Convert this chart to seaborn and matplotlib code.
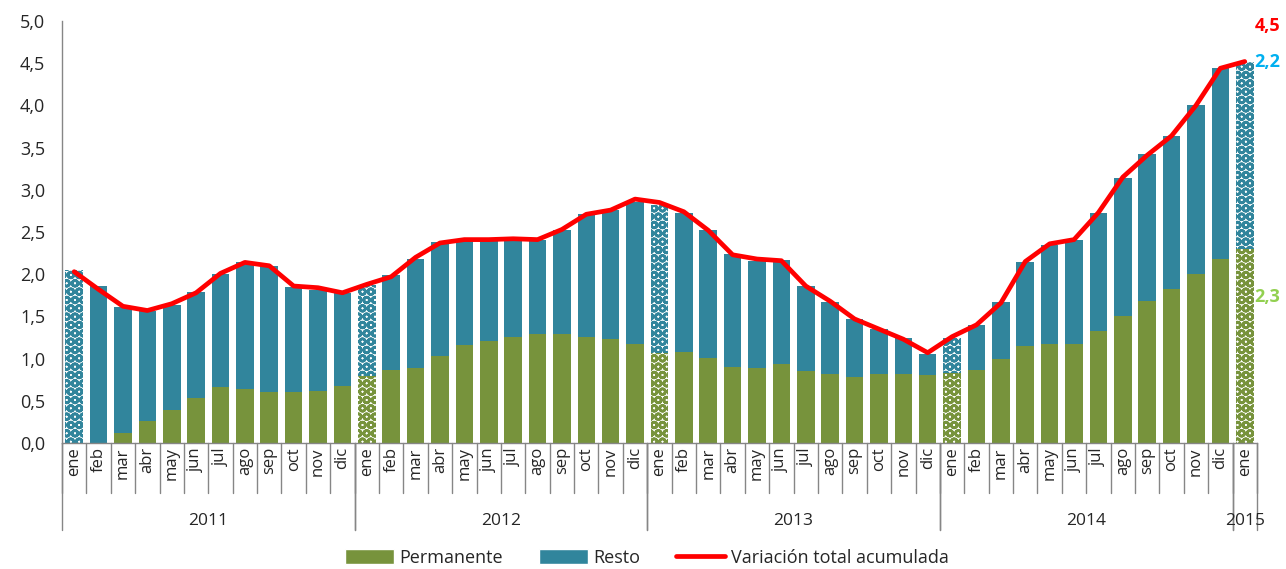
import numpy as np
import pandas as pd
import matplotlib
matplotlib.use("Agg")
import matplotlib.pyplot as plt
import matplotlib.transforms as mtransforms
from matplotlib.patches import Patch
from matplotlib.lines import Line2D
import seaborn as sns

# ---------------- data ----------------
months = ["ene", "feb", "mar", "abr", "may", "jun", "jul", "ago", "sep", "oct", "nov", "dic"]
years = ["2011", "2012", "2013", "2014", "2015"]
months_per_year = [12, 12, 12, 12, 1]

permanente = [
    0.00, 0.00, 0.12, 0.26, 0.39, 0.53, 0.66, 0.64, 0.60, 0.60, 0.62, 0.67,
    0.79, 0.86, 0.89, 1.03, 1.16, 1.21, 1.26, 1.29, 1.29, 1.26, 1.23, 1.17,
    1.07, 1.08, 1.01, 0.90, 0.89, 0.94, 0.85, 0.82, 0.78, 0.82, 0.82, 0.80,
    0.83, 0.86, 0.99, 1.15, 1.17, 1.17, 1.33, 1.51, 1.68, 1.83, 2.00, 2.18,
    2.30,
]
resto = [
    2.05, 1.86, 1.49, 1.31, 1.24, 1.26, 1.34, 1.50, 1.50, 1.25, 1.19, 1.11,
    1.08, 1.13, 1.29, 1.35, 1.23, 1.18, 1.15, 1.11, 1.23, 1.45, 1.53, 1.69,
    1.75, 1.65, 1.51, 1.34, 1.27, 1.23, 1.01, 0.85, 0.69, 0.53, 0.43, 0.26,
    0.41, 0.54, 0.68, 1.00, 1.18, 1.24, 1.40, 1.63, 1.74, 1.81, 2.01, 2.26,
    2.21,
]
variacion_total = [
    2.03, 1.82, 1.62, 1.57, 1.65, 1.78, 2.01, 2.14, 2.10, 1.86, 1.84, 1.78,
    1.88, 1.97, 2.20, 2.37, 2.41, 2.41, 2.42, 2.41, 2.53, 2.71, 2.76, 2.89,
    2.85, 2.74, 2.52, 2.23, 2.18, 2.16, 1.86, 1.68, 1.47, 1.35, 1.23, 1.07,
    1.26, 1.40, 1.66, 2.15, 2.36, 2.41, 2.73, 3.15, 3.41, 3.64, 4.00, 4.44,
    4.52,
]
end_labels = ["4,5", "2,2", "2,3"]  # total, resto, permanente (last month)

# ---------------- styling ----------------
GREEN = "#77933C"
BLUE = "#31859C"
RED = "#FF0000"
GRAY = "#868686"

sns.set_style("white")
plt.rcParams["font.family"] = ["Open Sans", "DejaVu Sans"]
plt.rcParams["hatch.linewidth"] = 1.9

month_labels = [m for y, k in zip(years, months_per_year) for m in months[:k]]
year_labels = [y for y, k in zip(years, months_per_year) for _ in range(k)]
n = len(month_labels)
df = pd.DataFrame({
    "idx": np.arange(n),
    "mes": month_labels,
    "anio": year_labels,
    "Permanente": permanente,
    "Resto": resto,
    "Total": variacion_total,
})
df["tope"] = df["Permanente"] + df["Resto"]

fig = plt.figure(figsize=(12.86, 5.69), dpi=100)
ax = fig.add_axes([0.0482, 0.2214, 0.9292, 0.7417])

sns.barplot(data=df, x="idx", y="tope", color=BLUE, saturation=1, width=0.72,
            linewidth=0, ax=ax)
sns.barplot(data=df, x="idx", y="Permanente", color=GREEN, saturation=1, width=0.72,
            linewidth=0, ax=ax)

# hatched bars for January
for cont in ax.containers[:2]:
    for i, bar in enumerate(cont):
        if df["mes"].iloc[i] == "ene":
            col = bar.get_facecolor()
            bar.set_facecolor("white")
            bar.set_edgecolor(col)
            bar.set_hatch("OO")
            bar.set_linewidth(0)

sns.lineplot(x=df["idx"], y=df["Total"], color=RED, linewidth=3.4, ax=ax,
             zorder=5, legend=False)

# ---------------- axes ----------------
ax.set_xlim(-0.5, n - 0.5)
ax.set_ylim(0, 5)
ax.set_yticks(np.arange(0, 5.01, 0.5))
ax.set_yticklabels([f"{v:.1f}".replace(".", ",") for v in np.arange(0, 5.01, 0.5)],
                   fontsize=13)
ax.tick_params(axis="y", length=5, width=1, color=GRAY, direction="out", pad=7)
ax.set_xticks(df["idx"])
ax.set_xticklabels(month_labels, rotation=90, fontsize=12)
ax.tick_params(axis="x", length=0, pad=3)
ax.set_xlabel("")
ax.set_ylabel("")
for s in ["top", "right"]:
    ax.spines[s].set_visible(False)
for s in ["left", "bottom"]:
    ax.spines[s].set_color(GRAY)
    ax.spines[s].set_linewidth(1)

trans = mtransforms.blended_transform_factory(ax.transData, ax.transAxes)
for b in np.arange(n + 1) - 0.5:
    ax.plot([b, b], [0, -0.118], transform=trans, color=GRAY, lw=1, clip_on=False)
starts = np.cumsum([0] + months_per_year)
for y, s0, s1 in zip(years, starts[:-1], starts[1:]):
    for b in (s0 - 0.5, s1 - 0.5):
        ax.plot([b, b], [0, -0.207], transform=trans, color=GRAY, lw=1, clip_on=False)
    ax.text((s0 + s1 - 1) / 2, -0.185, y, transform=trans, ha="center", va="center",
            fontsize=12.5)

# end labels
xl = n - 0.6
ax.text(xl, variacion_total[-1] + 0.42, end_labels[0], color=RED, fontsize=13,
        fontweight="bold", ha="left", va="center", clip_on=False)
ax.text(xl, permanente[-1] + resto[-1], end_labels[1], color="#00B0F0", fontsize=13,
        fontweight="bold", ha="left", va="center", clip_on=False)
ax.text(xl, permanente[-1] * 0.75, end_labels[2], color="#92D050", fontsize=13,
        fontweight="bold", ha="left", va="center", clip_on=False)

handles = [Patch(facecolor=GREEN), Patch(facecolor=BLUE), Line2D([], [], color=RED, lw=3.4)]
fig.legend(handles, ["Permanente", "Resto", "Variación total acumulada"],
           loc="center", bbox_to_anchor=(0.503, 0.019), ncol=3, frameon=False,
           fontsize=13, handlelength=2.7, handleheight=0.9, columnspacing=2.0,
           handletextpad=0.3)

fig.savefig("out.png", dpi=100)
